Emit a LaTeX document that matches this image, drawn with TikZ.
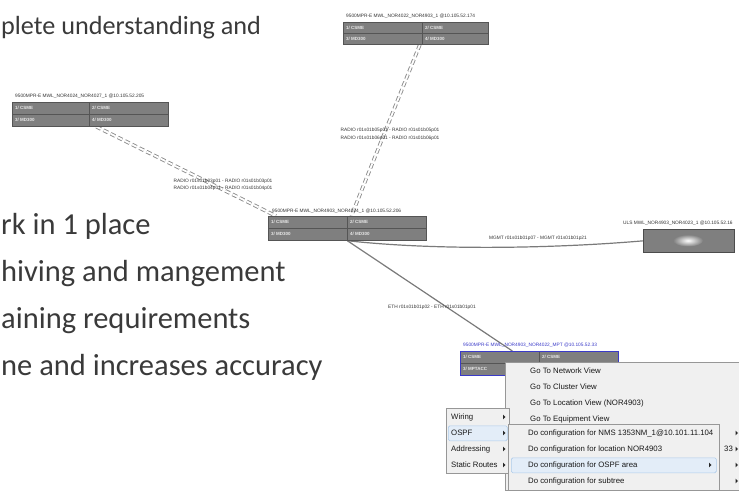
\documentclass[tikz,border=0pt]{standalone}
\usepackage{fontspec}
\setmainfont{Liberation Sans}
\newfontfamily\bigfont{Carlito}
\usetikzlibrary{calc}
\definecolor{txtgray}{HTML}{3A3A3A}
\definecolor{tblfill}{HTML}{7F7F7F}
\definecolor{tblborder}{HTML}{555555}
\definecolor{celltxt}{HTML}{E8E8E8}
\definecolor{linegray}{HTML}{8C8C8C}
\definecolor{wiregray}{HTML}{7A7A7A}
\definecolor{selblue}{HTML}{3A3AC8}
\definecolor{menubg}{HTML}{F0F0F0}
\definecolor{menuborder}{HTML}{979797}
\definecolor{hlfill}{HTML}{E3EDF8}
\definecolor{hlborder}{HTML}{AECBEA}
\begin{document}
\begin{tikzpicture}[x=1pt,y=-1pt,
  bigtxt/.style={font=\bigfont\fontsize{30.5}{36}\selectfont, text=txtgray, anchor=base west, inner sep=0},
  tbl/.style={draw=tblborder, fill=tblfill, line width=0.7, inner sep=0, anchor=north west, minimum height=24},
  tdiv/.style={draw=tblborder, line width=0.6},
  cell/.style={font=\fontsize{4.5}{5}\selectfont\bfseries, text=celltxt, anchor=west, inner sep=0},
  nlabel/.style={font=\fontsize{4.8}{5.5}\selectfont, text=black!80, anchor=south west, inner sep=0},
  elabel/.style={font=\fontsize{4.8}{5.5}\selectfont, text=black!80, inner sep=0},
  radio/.style={draw=linegray, line width=0.9, double=white, double distance=1.8, dash pattern=on 5pt off 3pt},
  wire/.style={draw=wiregray, line width=1.2},
  menubox/.style={draw=menuborder, fill=menubg, line width=0.6, inner sep=0, anchor=north west},
  hlbox/.style={draw=hlborder, fill=hlfill, line width=0.6, rounded corners=1.5, inner sep=0, anchor=north west},
  mitem/.style={font=\fontsize{7.8}{9}\selectfont, text=black!90, anchor=west, inner sep=0},
  marr/.style={fill=black!85, draw=none}
]
\useasboundingbox (0,0) rectangle (739,494);

% ---------- slide text ----------
\node[bigtxt, font=\bigfont\fontsize{26.2}{30}\selectfont] (t1) at (1,35) {plete understanding and};
\node[bigtxt] (t2) at (1,235) {rk in 1 place};
\node[bigtxt] (t3) at (1,282) {hiving and mangement};
\node[bigtxt] (t4) at (1,328) {aining requirements};
\node[bigtxt] (t5) at (1,375) {ne and increases accuracy};

% ---------- nodes for connectors ----------
\node[tbl, minimum width=156] (A) at (12,102) {};
\node[tbl, minimum width=145, minimum height=22] (B) at (343,22) {};
\node[tbl, minimum width=158] (C) at (268,216) {};
\node[tbl, minimum width=91, minimum height=23, draw=black!70] (D) at (643,229) {};
\node[tbl, minimum width=158, draw=selblue] (E) at (460,351) {};

\draw[radio] ([xshift=6]A.south) -- ([xshift=8]C.north west);
\draw[radio] ([xshift=4]B.south) -- ([xshift=4]C.north);
\draw[wire] (C.south) .. controls (440,251) and (560,248) .. (D.west);
\coordinate (Etop) at ([xshift=-27]E.north);
\draw[wire] (C.south) -- (Etop);

% ---------- tables ----------
% A
\node[tbl, minimum width=156] (A') at (12,102) {};
\draw[tdiv] (A'.west) -- (A'.east);
\draw[tdiv] ($(A'.north west)+(77,0)$) -- ($(A'.south west)+(77,0)$);
\node[cell] (A1) at ($(A'.north west)+(3,6)$) {1/ CSME};
\node[cell] (A2) at ($(A'.north west)+(80,6)$) {2/ CSME};
\node[cell] (A3) at ($(A'.north west)+(3,18)$) {3/ MD300};
\node[cell] (A4) at ($(A'.north west)+(80,18)$) {4/ MD300};
\node[nlabel] (Al) at ($(A'.north west)+(3,-3)$) {9500MPR-E MWL\_NOR4024\_NOR4027\_1 @10.105.52.205};
% B
\node[tbl, minimum width=145, minimum height=22] (B') at (343,22) {};
\draw[tdiv] (B'.west) -- (B'.east);
\draw[tdiv] ($(B'.north west)+(79,0)$) -- ($(B'.south west)+(79,0)$);
\node[cell] (B1) at ($(B'.north west)+(3,5.5)$) {1/ CSME};
\node[cell] (B2) at ($(B'.north west)+(82,5.5)$) {2/ CSME};
\node[cell] (B3) at ($(B'.north west)+(3,16.5)$) {3/ MD300};
\node[cell] (B4) at ($(B'.north west)+(82,16.5)$) {4/ MD300};
\node[nlabel] (Bl) at ($(B'.north west)+(3,-3)$) {9500MPR-E MWL\_NOR4022\_NOR4903\_1 @10.105.52.174};
% C
\node[tbl, minimum width=158] (C') at (268,216) {};
\draw[tdiv] (C'.west) -- (C'.east);
\draw[tdiv] ($(C'.north west)+(79,0)$) -- ($(C'.south west)+(79,0)$);
\node[cell] (C1) at ($(C'.north west)+(3,6)$) {1/ CSME};
\node[cell] (C2) at ($(C'.north west)+(82,6)$) {2/ CSME};
\node[cell] (C3) at ($(C'.north west)+(3,18)$) {3/ MD300};
\node[cell] (C4) at ($(C'.north west)+(82,18)$) {4/ MD300};
\node[nlabel] (Cl) at ($(C'.north west)+(4,-2)$) {9500MPR-E MWL\_NOR4903\_NOR4024\_1 @10.105.52.206};
% D
\node[tbl, minimum width=91, minimum height=23, draw=black!70] (D') at (643,229) {};
\shade[inner color=white, outer color=tblfill] (688,240.5) ellipse (15 and 6);
\node[nlabel] (Dl) at (623,226) {ULS MWL\_NOR4903\_NOR4023\_1 @10.105.52.16};
% E
\node[tbl, minimum width=158, draw=selblue] (E') at (460,351) {};
\draw[tdiv] (E'.west) -- (E'.east);
\draw[tdiv] ($(E'.north west)+(79,0)$) -- ($(E'.south west)+(79,0)$);
\draw[selblue, line width=0.7] (E'.north west) rectangle (E'.south east);
\node[cell] (E1) at ($(E'.north west)+(3,6)$) {1/ CSME};
\node[cell] (E2) at ($(E'.north west)+(82,6)$) {2/ CSME};
\node[cell] (E3) at ($(E'.north west)+(3,18)$) {3/ MPTACC};
\node[nlabel, text=selblue] (El) at ($(E'.north west)+(3,-3)$) {9500MPR-E MWL\_NOR4903\_NOR4022\_MPT @10.105.52.33};

% ---------- connector labels ----------
\node[elabel] (lab1) at (223,181) {RADIO r01s01b03p01 - RADIO r01s01b03p01};
\node[elabel] (lab2) at (223,188.5) {RADIO r01s01b04p01 - RADIO r01s01b04p01};
\node[elabel] (lab3) at (390,130.5) {RADIO r01s01b05p01 - RADIO r01s01b05p01};
\node[elabel] (lab4) at (390,138) {RADIO r01s01b06p01 - RADIO r01s01b06p01};
\node[elabel] (lab5) at (538,238.5) {MGMT r01s01b01p07 - MGMT r01s01b01p21};
\node[elabel] (lab6) at (432,307) {ETH r01s01b01p02 - ETH r01s01b01p01};

% ---------- context menus ----------
\node[menubox, minimum width=240, minimum height=128] (M) at (505,362) {};
\node[mitem] (m1) at (530,371) {Go To Network View};
\node[mitem] (m2) at (530,387) {Go To Cluster View};
\node[mitem] (m3) at (530,403) {Go To Location View (NOR4903)};
\node[mitem] (m4) at (530,419) {Go To Equipment View};
\node[mitem] (m5) at (724,449) {33};
\foreach \yy in {433,449,465,481}{
  \fill[marr] (735.5,\yy-2.3) -- (738,\yy) -- (735.5,\yy+2.3) -- cycle;
}

\node[menubox, minimum width=63, minimum height=65] (L) at (446,408) {};
\node[hlbox, minimum width=59, minimum height=15] (Lh) at (448,425.5) {};
\node[mitem] (l1) at (451,417) {Wiring};
\node[mitem] (l2) at (451,433) {OSPF};
\node[mitem] (l3) at (451,449) {Addressing};
\node[mitem] (l4) at (451,465) {Static Routes};
\foreach \yy in {417,433,449,465}{
  \fill[marr] (503,\yy-2.3) -- (505.5,\yy) -- (503,\yy+2.3) -- cycle;
}

\node[menubox, minimum width=211, minimum height=66] (S) at (508,424) {};
\node[hlbox, minimum width=205, minimum height=15] (Sh) at (511,457.5) {};
\node[mitem] (s1) at (528,433) {Do configuration for NMS 1353NM\_1@10.101.11.104};
\node[mitem] (s2) at (528,449) {Do configuration for location NOR4903};
\node[mitem] (s3) at (528,465) {Do configuration for OSPF area};
\node[mitem] (s4) at (528,481) {Do configuration for subtree};
\fill[marr] (709,462.7) -- (711.5,465) -- (709,467.3) -- cycle;
\end{tikzpicture}
\end{document}
